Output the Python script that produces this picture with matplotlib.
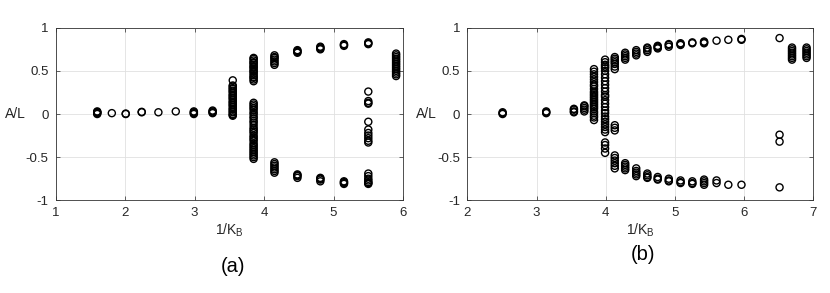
import matplotlib
matplotlib.use("Agg")
import matplotlib.pyplot as plt

plt.rcParams["font.family"] = ["Liberation Sans", "DejaVu Sans"]
plt.rcParams["mathtext.fontset"] = "custom"
plt.rcParams["mathtext.rm"] = "Liberation Sans"
plt.rcParams["mathtext.it"] = "Liberation Sans"

# panel (a): 1/K_B positions and the A/L values seen at each one
a_x = [1.60, 1.81, 2.01, 2.24, 2.48, 2.73, 2.99, 3.26, 3.55, 3.85,
       4.15, 4.48, 4.81, 5.15, 5.50, 5.90]
a_y = [
    [0.00, 0.01, 0.02, 0.03, 0.02],
    [0.01],
    [0.00, 0.005],
    [0.02, 0.025],
    [0.02],
    [0.03],
    [0.00, 0.01, 0.02, 0.03],
    [0.01, 0.02, 0.03, 0.04],
    [-0.02, -0.01, 0.00, 0.02, 0.03, 0.05, 0.06, 0.08, 0.10, 0.11, 0.13,
     0.14, 0.16, 0.18, 0.19, 0.21, 0.22, 0.24, 0.26, 0.27, 0.29, 0.30,
     0.32, 0.33, 0.39],
    [0.38, 0.40, 0.42, 0.43, 0.45, 0.47, 0.49, 0.50, 0.52, 0.54, 0.55,
     0.57, 0.59, 0.60, 0.62, 0.64, 0.65,
     0.13, 0.11, 0.09, 0.07, 0.05, 0.02, 0.00, -0.03, -0.05, -0.08, -0.10,
     -0.13, -0.16, -0.18, -0.20, -0.22, -0.25, -0.27, -0.29, -0.31, -0.34,
     -0.36, -0.38, -0.40, -0.42, -0.44, -0.46, -0.48, -0.50, -0.52],
    [0.57, 0.59, 0.61, 0.63, 0.65, 0.66, 0.68,
     -0.56, -0.58, -0.60, -0.62, -0.64, -0.66, -0.68],
    [0.71, 0.72, 0.73, 0.74, -0.70, -0.71, -0.72, -0.74],
    [0.75, 0.76, 0.77, 0.78, -0.74, -0.75, -0.76, -0.78],
    [0.79, 0.80, 0.81, -0.78, -0.79, -0.80, -0.81],
    [0.81, 0.82, 0.83, 0.26, 0.15, 0.13, 0.12, -0.09, -0.18, -0.22, -0.25,
     -0.28, -0.31, -0.33, -0.69, -0.72, -0.75, -0.77, -0.79, -0.80, -0.81],
    [0.44, 0.46, 0.48, 0.50, 0.52, 0.54, 0.56, 0.58, 0.60, 0.62, 0.64,
     0.66, 0.68, 0.70],
]

# panel (b)
b_x = [2.51, 3.14, 3.54, 3.69, 3.83, 3.99, 4.13, 4.28, 4.44, 4.60, 4.75,
       4.91, 5.08, 5.25, 5.42, 5.60, 5.77, 5.96, 6.51, 6.69, 6.90]
b_y = [
    [0.00, 0.01, 0.02],
    [0.01, 0.02, 0.03],
    [0.02, 0.03, 0.05, 0.06],
    [0.03, 0.05, 0.07, 0.09, 0.10],
    [-0.07, -0.04, -0.02, 0.01, 0.03, 0.06, 0.08, 0.10, 0.12, 0.14, 0.16,
     0.18, 0.20, 0.22, 0.24, 0.26, 0.29, 0.32, 0.34, 0.37, 0.40, 0.43,
     0.46, 0.49, 0.52],
    [0.63, 0.60, 0.57, 0.55, 0.53, 0.50, 0.46, 0.42, 0.38, 0.34, 0.30,
     0.26, 0.22, 0.20, 0.16, 0.12, 0.08, 0.04, 0.01, -0.03, -0.06, -0.09,
     -0.12, -0.15, -0.18, -0.21, -0.33, -0.36, -0.40, -0.45],
    [0.52, 0.55, 0.58, 0.60, 0.62, 0.64, 0.66, -0.13, -0.16, -0.19,
     -0.48, -0.51, -0.54, -0.57, -0.60, -0.63],
    [0.63, 0.65, 0.67, 0.69, 0.71, -0.57, -0.59, -0.61, -0.63, -0.65],
    [0.68, 0.70, 0.72, 0.74, -0.63, -0.66, -0.68, -0.70, -0.72],
    [0.72, 0.74, 0.76, 0.77, -0.69, -0.71, -0.73, -0.74],
    [0.76, 0.77, 0.78, 0.79, -0.73, -0.75, -0.76],
    [0.78, 0.80, 0.81, -0.75, -0.77, -0.78],
    [0.80, 0.81, 0.82, -0.77, -0.79, -0.80],
    [0.82, 0.83, -0.78, -0.80, -0.81],
    [0.82, 0.83, 0.84, -0.76, -0.78, -0.80, -0.82],
    [0.85, -0.77, -0.80],
    [0.86, -0.82],
    [0.86, 0.87, -0.82],
    [0.88, -0.24, -0.32, -0.85],
    [0.63, 0.65, 0.67, 0.69, 0.71, 0.73, 0.75, 0.77],
    [0.65, 0.67, 0.69, 0.71, 0.73, 0.75, 0.77],
]

fig = plt.figure(figsize=(8.3, 2.93), dpi=100)
ax_a = fig.add_axes([0.0669, 0.3164, 0.4187, 0.589])
ax_b = fig.add_axes([0.5630, 0.3164, 0.4171, 0.589])


def draw(ax, xs, ys, xlim, ylab_x):
    for x, vals in zip(xs, ys):
        ax.scatter([x] * len(vals), vals, s=26, facecolors="none",
                   edgecolors="black", linewidths=1.0, zorder=3)
    ax.set_xlim(*xlim)
    ax.set_ylim(-1, 1)
    ax.set_yticks([-1, -0.5, 0, 0.5, 1])
    ax.set_yticklabels(["-1", "-0.5", "0", "0.5", "1"])
    ax.grid(True, color="0.88", linewidth=0.6)
    ax.set_axisbelow(True)
    ax.tick_params(direction="in", length=3, width=0.5, top=True, right=True,
                   labelsize=9.5, colors="0.15", pad=5)
    for sp in ax.spines.values():
        sp.set_linewidth(0.6)
        sp.set_color("0.2")
    ax.set_xlabel("1/K$_{\\mathrm{B}}$", fontsize=10, color="0.15", labelpad=2)
    ax.set_ylabel("A/L", fontsize=10, color="0.15", rotation=0,
                  ha="right", va="center")
    ax.yaxis.set_label_coords(ylab_x, 0.5)


draw(ax_a, a_x, a_y, (1, 6), -0.085)
draw(ax_b, b_x, b_y, (2, 7), -0.087)
ax_a.set_xticks([1, 2, 3, 4, 5, 6])
ax_b.set_xticks([2, 3, 4, 5, 6, 7])

fig.text(233 / 830, 1 - 266 / 293, "(a)", fontsize=14.5, ha="center", va="center")
fig.text(643 / 830, 1 - 255 / 293, "(b)", fontsize=14.5, ha="center", va="center")

fig.savefig("out.png", dpi=100)
